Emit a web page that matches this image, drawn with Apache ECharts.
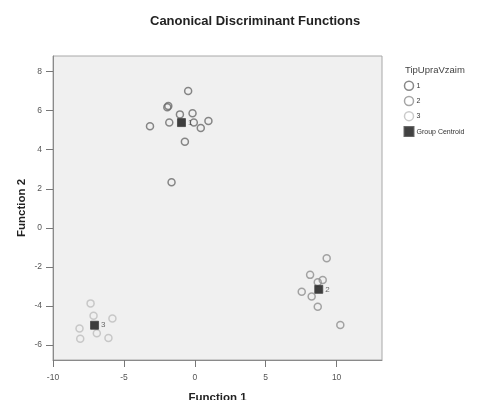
<!DOCTYPE html>
<html>
<head>
<meta charset="utf-8">
<script src="https://cdn.jsdelivr.net/npm/echarts@6/dist/echarts.min.js"></script>
<style>
  html, body { margin: 0; padding: 0; background: #fff; }
  #chart { width: 485px; height: 400px; }
</style>
</head>
<body>
<div id="chart"></div>
<script>
// discriminant scores per group [function1, function2]
const group1 = [
  [-0.47, 7.01], [-1.94, 6.17], [-1.87, 6.24], [-1.05, 5.81], [-0.16, 5.87],
  [-3.16, 5.20], [-1.80, 5.40], [-0.07, 5.40], [0.42, 5.11], [0.96, 5.47],
  [-0.70, 4.41], [-1.64, 2.33]
];
const group2 = [
  [9.30, -1.56], [8.13, -2.41], [8.67, -2.79], [9.02, -2.67], [7.54, -3.27],
  [8.24, -3.52], [8.67, -4.04], [10.26, -4.98]
];
const group3 = [
  [-7.35, -3.87], [-7.14, -4.50], [-5.81, -4.65], [-8.13, -5.16],
  [-6.91, -5.40], [-8.08, -5.68], [-6.09, -5.64]
];
const centroidNames = ['1', '2', '3'];
const centroids = [[-0.94, 5.39], [8.74, -3.15], [-7.07, -4.99]];

const xTicks = [-10, -5, 0, 5, 10];
const yTicks = [-6, -4, -2, 0, 2, 4, 6, 8];

const groupColors = ['#6a6a6a', '#8e8e8e', '#bdbdbd'];
const font = 'Liberation Sans, Arial, sans-serif';

let chart = echarts.init(document.getElementById('chart'));

function groupSeries(name, data, color) {
  return {
    name: name,
    type: 'scatter',
    data: data,
    symbol: 'circle',
    symbolSize: 7,
    itemStyle: { color: 'transparent', borderColor: color, borderWidth: 1.5 },
    emphasis: { disabled: true }
  };
}

chart.setOption({
  animation: false,
  title: {
    text: 'Canonical Discriminant Functions',
    left: 150,
    top: 15,
    padding: 0,
    textStyle: { fontFamily: font, fontSize: 13, fontWeight: 'bold', color: '#222' }
  },
  graphic: [{
    type: 'text',
    left: 405,
    top: 65,
    style: { text: 'TipUpraVzaim', fontFamily: font, fontSize: 9.5, fill: '#444' }
  }],
  legend: {
    orient: 'vertical',
    left: 403.5,
    top: 80.5,
    padding: 0,
    itemWidth: 9,
    itemHeight: 9,
    itemGap: 4.7,
    textStyle: { fontFamily: font, fontSize: 7, color: '#333', padding: [0, 0, 0, -2] },
    data: [
      { name: '1', icon: 'circle', itemStyle: { color: 'transparent', borderColor: groupColors[0], borderWidth: 1.5 } },
      { name: '2', icon: 'circle', itemStyle: { color: 'transparent', borderColor: groupColors[1], borderWidth: 1.5 } },
      { name: '3', icon: 'circle', itemStyle: { color: 'transparent', borderColor: groupColors[2], borderWidth: 1.5 } },
      { name: 'Group Centroid', icon: 'rect', itemStyle: { color: '#111' } }
    ]
  },
  grid: {
    left: 53, top: 56, right: 103, bottom: 40,
    outerBoundsMode: 'none',
    containLabel: false,
    show: true,
    backgroundColor: '#f0f0f0',
    borderColor: '#a8a8a8',
    borderWidth: 1
  },
  xAxis: {
    type: 'value',
    min: -10,
    max: 13.2,
    name: 'Function 1',
    nameLocation: 'middle',
    nameGap: 32,
    nameTextStyle: { fontFamily: font, fontSize: 11.5, fontWeight: 'bold', color: '#222' },
    splitLine: { show: false },
    axisLine: { onZero: false, lineStyle: { color: '#8a8a8a', width: 1 } },
    axisTick: { customValues: xTicks, length: 7, lineStyle: { color: '#777' } },
    axisLabel: { customValues: xTicks, margin: 13, fontFamily: font, fontSize: 8.5, color: '#555' }
  },
  yAxis: {
    type: 'value',
    min: -6.77,
    max: 8.8,
    name: 'Function 2',
    nameLocation: 'middle',
    nameGap: 25,
    nameMoveOverlap: false,
    nameTextStyle: { fontFamily: font, fontSize: 11.5, fontWeight: 'bold', color: '#222' },
    splitLine: { show: false },
    axisLine: { show: true, onZero: false, lineStyle: { color: '#8a8a8a', width: 1 } },
    axisTick: { show: true, customValues: yTicks, length: 7, lineStyle: { color: '#777' } },
    axisLabel: { customValues: yTicks, margin: 11, fontFamily: font, fontSize: 8.5, color: '#555' }
  },
  series: [
    groupSeries('1', group1, groupColors[0]),
    groupSeries('2', group2, groupColors[1]),
    groupSeries('3', group3, groupColors[2]),
    {
      name: 'Group Centroid',
      type: 'scatter',
      symbol: 'rect',
      symbolSize: 8,
      z: 3,
      data: centroids.map((c, i) => ({ name: centroidNames[i], value: c })),
      itemStyle: { color: '#111', borderColor: '#444', borderWidth: 1 },
      label: {
        show: true,
        formatter: '{b}',
        position: 'right',
        distance: 2,
        offset: [0, -9],
        fontFamily: font,
        fontSize: 8,
        color: '#444'
      },
      labelLayout: { hideOverlap: false },
      emphasis: { disabled: true }
    }
  ]
});
</script>
</body>
</html>
